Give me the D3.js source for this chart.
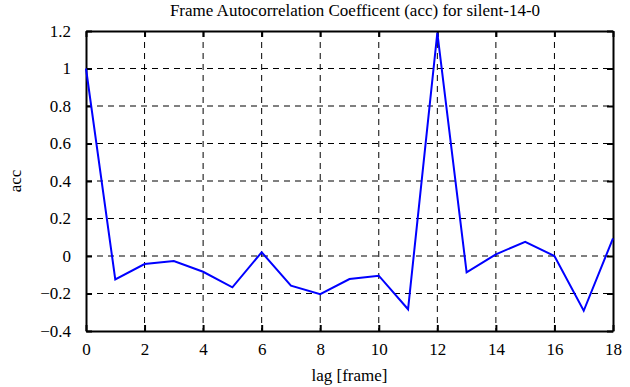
<!DOCTYPE html>
<html>
<head>
<meta charset="utf-8">
<script src="https://cdn.jsdelivr.net/npm/d3@7"></script>
<style>
  body { margin: 0; background: #fff; }
  text { font-family: "Liberation Serif", "DejaVu Serif", serif; }
</style>
</head>
<body>
<div id="visual"></div>
<script>
// lag values and autocorrelation
var lags = [0, 1, 2, 3, 4, 5, 6, 7, 8, 9, 10, 11, 12, 13, 14, 15, 16, 17, 18];
var acc = [1.0, -0.125, -0.043, -0.027, -0.084, -0.167, 0.02, -0.158, -0.204, -0.123,
           -0.105, -0.284, 1.19, -0.087, 0.009, 0.076, 0.0, -0.292, 0.094];
var xTicks = [0, 2, 4, 6, 8, 10, 12, 14, 16, 18];
var yTicks = [-0.4, -0.2, 0, 0.2, 0.4, 0.6, 0.8, 1, 1.2];

var width = 630,
  height = 387,
  plotLeft = 86,
  plotRight = 613,
  plotTop = 31,
  plotBottom = 331;

var svg = d3
  .select("#visual")
  .append("svg")
  .attr("width", width)
  .attr("height", height);

//Scales
var xScale = d3.scaleLinear().domain([0, 18]).range([plotLeft, plotRight]);
var yScale = d3.scaleLinear().domain([-0.4, 1.2]).range([plotBottom, plotTop]);

//Dashed grid
svg.append("g")
  .selectAll("line")
  .data(xTicks.slice(1, -1))
  .enter()
  .append("line")
  .attr("x1", d => xScale(d))
  .attr("x2", d => xScale(d))
  .attr("y1", plotTop)
  .attr("y2", plotBottom)
  .attr("stroke", "#000")
  .attr("stroke-width", 1)
  .attr("stroke-dasharray", "6,5");

svg.append("g")
  .selectAll("line")
  .data(yTicks.slice(1, -1))
  .enter()
  .append("line")
  .attr("x1", plotLeft)
  .attr("x2", plotRight)
  .attr("y1", d => yScale(d))
  .attr("y2", d => yScale(d))
  .attr("stroke", "#000")
  .attr("stroke-width", 1)
  .attr("stroke-dasharray", "6,5");

//Axes with inward ticks, mirrored on top/right
var fmt = d => d3.format("")(+d.toFixed(1));
var xAxis = svg.append("g")
  .attr("transform", "translate(0," + plotBottom + ")")
  .call(d3.axisBottom(xScale).tickValues(xTicks).tickSizeInner(-6).tickSizeOuter(0).tickPadding(12).tickFormat(fmt));
var yAxis = svg.append("g")
  .attr("transform", "translate(" + plotLeft + ",0)")
  .call(d3.axisLeft(yScale).tickValues(yTicks).tickSizeInner(-6).tickSizeOuter(0).tickPadding(15).tickFormat(fmt));
var xAxisTop = svg.append("g")
  .attr("transform", "translate(0," + plotTop + ")")
  .call(d3.axisTop(xScale).tickValues(xTicks).tickSizeInner(-6).tickSizeOuter(0).tickFormat(""));
var yAxisRight = svg.append("g")
  .attr("transform", "translate(" + plotRight + ",0)")
  .call(d3.axisRight(yScale).tickValues(yTicks).tickSizeInner(-6).tickSizeOuter(0).tickFormat(""));

[xAxis, yAxis, xAxisTop, yAxisRight].forEach(function(g) {
  g.selectAll("path, line").attr("stroke", "#000").attr("stroke-width", 2);
  g.selectAll("text")
    .attr("fill", "#000")
    .style("font-family", "'Liberation Serif', serif")
    .style("font-size", "17px");
});

//Data line
var line = d3.line()
  .x((d, i) => xScale(lags[i]))
  .y(d => yScale(d));

svg.append("path")
  .datum(acc)
  .attr("fill", "none")
  .attr("stroke", "#0000ff")
  .attr("stroke-width", 2)
  .attr("stroke-linejoin", "miter")
  .attr("d", line);

//Titles
svg.append("text")
  .attr("x", 355)
  .attr("y", 16)
  .attr("text-anchor", "middle")
  .style("font-size", "17px")
  .text("Frame Autocorrelation Coefficent (acc) for silent-14-0");

svg.append("text")
  .attr("x", (plotLeft + plotRight) / 2)
  .attr("y", 381)
  .attr("text-anchor", "middle")
  .style("font-size", "17px")
  .text("lag [frame]");

svg.append("text")
  .attr("transform", "translate(21," + (plotTop + plotBottom) / 2 + ") rotate(-90)")
  .attr("text-anchor", "middle")
  .style("font-size", "17px")
  .text("acc");
</script>
</body>
</html>
